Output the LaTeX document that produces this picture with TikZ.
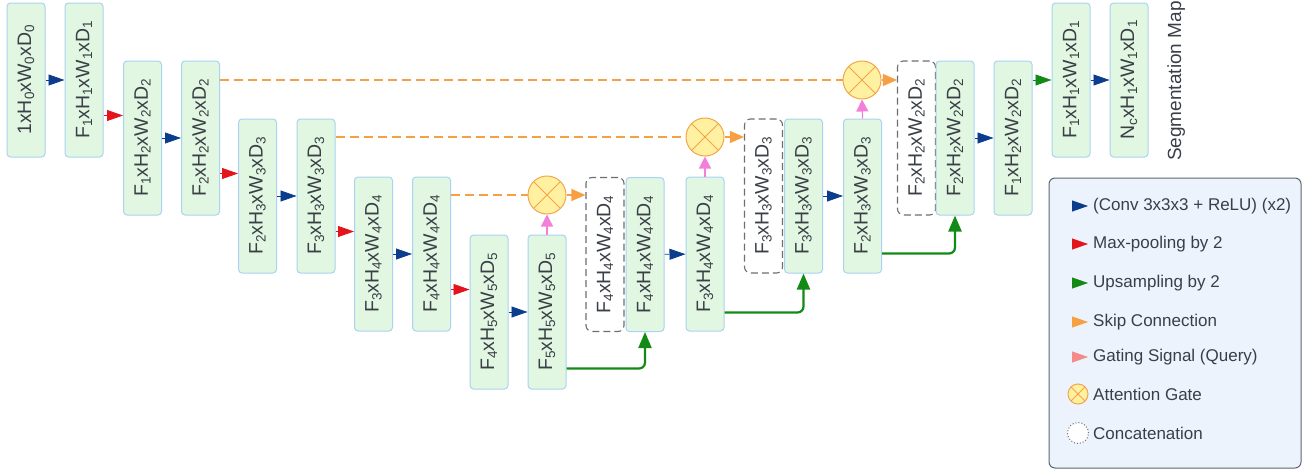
\documentclass[tikz,border=0pt]{standalone}
\usepackage{fontspec}
\setmainfont{Liberation Sans}
\usetikzlibrary{arrows.meta,calc}
\definecolor{boxfill}{HTML}{E2F7E2}
\definecolor{boxline}{HTML}{A9D3F2}
\definecolor{txt}{HTML}{3A3F47}
\definecolor{cblue}{HTML}{0B3D8C}
\definecolor{cred}{HTML}{E3141B}
\definecolor{cgreen}{HTML}{138A16}
\definecolor{corange}{HTML}{F7A043}
\definecolor{cpink}{HTML}{F27FD9}
\definecolor{csalmon}{HTML}{F48B8B}
\definecolor{gfill}{HTML}{FFF1A1}
\definecolor{gline}{HTML}{F5A548}
\definecolor{legfill}{HTML}{EDF3FC}
\definecolor{legline}{HTML}{5B6370}
\definecolor{dashline}{HTML}{6E6E6E}
\newcommand\lo[1]{\raisebox{-0.28ex}{\fontsize{13.5}{13.5}\selectfont #1}}
\newcommand\dims[5]{#1\lo{#2}xH\lo{#3}xW\lo{#4}xD\lo{#5}}
\tikzset{
  box/.style={draw=boxline, fill=boxfill, rounded corners=3.5pt, minimum width=38pt,
    minimum height=154pt, inner sep=0pt, text=txt, line width=1pt,
    font=\fontsize{19.5}{19.5}\selectfont},
  catbox/.style={box, draw=dashline, fill=white, line width=1.1pt, dash pattern=on 7pt off 4pt, rounded corners=6pt},
  gate/.style={circle, draw=gline, fill=gfill, minimum size=38pt, inner sep=0pt, line width=1pt,
    path picture={\draw[gline, line width=1pt]
      (path picture bounding box.north west) -- (path picture bounding box.south east)
      (path picture bounding box.north east) -- (path picture bounding box.south west);}},
  conv/.style={color=cblue, line width=0.8pt, -{Triangle[length=16pt,width=11pt]}},
  pool/.style={color=cred, line width=0.8pt, -{Triangle[length=16pt,width=11pt]}},
  upar/.style={color=cgreen, line width=2.2pt, rounded corners=6pt, -{Triangle[length=16pt,width=13pt]}},
  upsmall/.style={color=cgreen, line width=0.8pt, -{Triangle[length=16pt,width=11pt]}},
  skipline/.style={draw=corange, line width=1.2pt, dash pattern=on 9pt off 5pt},
  skiparr/.style={color=corange, line width=1.2pt, -{Triangle[length=14pt,width=12pt]}},
  gating/.style={color=cpink, line width=1.2pt, -{Triangle[length=12pt,width=12pt]}},
  legtxt/.style={anchor=west, inner sep=0pt, text=txt, font=\fontsize{17}{17}\selectfont},
}
\begin{document}
\begin{tikzpicture}[x=1pt,y=-1pt]
\useasboundingbox (0,0) rectangle (1313,471);
% encoder
\node[box] (B1) at (26,80) {\rotatebox{90}{\dims{1}{}{0}{0}{0}}};
\node[box] (B2) at (84,80) {\rotatebox{90}{\dims{F}{1}{1}{1}{1}}};
\node[box] (B3) at (142.5,138) {\rotatebox{90}{\dims{F}{1}{2}{2}{2}}};
\node[box] (B4) at (200.5,138) {\rotatebox{90}{\dims{F}{2}{2}{2}{2}}};
\node[box] (B5) at (257.5,196) {\rotatebox{90}{\dims{F}{2}{3}{3}{3}}};
\node[box] (B6) at (316,196) {\rotatebox{90}{\dims{F}{3}{3}{3}{3}}};
\node[box] (B7) at (373.5,254) {\rotatebox{90}{\dims{F}{3}{4}{4}{4}}};
\node[box] (B8) at (431.5,254) {\rotatebox{90}{\dims{F}{4}{4}{4}{4}}};
\node[box] (B9) at (489,312) {\rotatebox{90}{\dims{F}{4}{5}{5}{5}}};
\node[box] (B10) at (547,312) {\rotatebox{90}{\dims{F}{5}{5}{5}{5}}};
% decoder
\node[catbox] (D1) at (605,254.5) {\rotatebox{90}{\dims{F}{4}{4}{4}{4}}};
\node[box] (G1) at (645,254.5) {\rotatebox{90}{\dims{F}{4}{4}{4}{4}}};
\node[box] (B11) at (705,254) {\rotatebox{90}{\dims{F}{3}{4}{4}{4}}};
\node[catbox] (D2) at (763.5,196) {\rotatebox{90}{\dims{F}{3}{3}{3}{3}}};
\node[box] (G2) at (803.5,196) {\rotatebox{90}{\dims{F}{3}{3}{3}{3}}};
\node[box] (B12) at (862.5,196) {\rotatebox{90}{\dims{F}{2}{3}{3}{3}}};
\node[catbox] (D3) at (916.5,138) {\rotatebox{90}{\dims{F}{2}{2}{2}{2}}};
\node[box] (G3) at (955,138) {\rotatebox{90}{\dims{F}{2}{2}{2}{2}}};
\node[box] (B13) at (1013,138) {\rotatebox{90}{\dims{F}{1}{2}{2}{2}}};
\node[box] (B14) at (1071,80) {\rotatebox{90}{\dims{F}{1}{1}{1}{1}}};
\node[box] (B15) at (1129,80) {\rotatebox{90}{\dims{N}{c}{1}{1}{1}}};
\node[rotate=90, anchor=base west, inner sep=0pt, text=txt, font=\fontsize{19}{19}\selectfont]
  (SM) at (1181,161) {Segmentation Map};
% gates
\node[gate] (A1) at (547,195) {};
\node[gate] (A2) at (705,137) {};
\node[gate] (A3) at (862,80) {};
% conv arrows
\draw[conv] (B1) -- (B2);
\draw[conv] (B3) -- (B4);
\draw[conv] (B5) -- (B6);
\draw[conv] (B7) -- (B8);
\draw[conv] (B9) -- (B10);
\draw[conv] (G1) -- (B11);
\draw[conv] (G2) -- (B12);
\draw[conv] (G3) -- (B13);
\draw[conv] (B14) -- (B15);
% pooling arrows
\coordinate (p1) at ([yshift=-55pt]B3.north west);
\coordinate (p2) at ([yshift=-55pt]B5.north west);
\coordinate (p3) at ([yshift=-55pt]B7.north west);
\coordinate (p4) at ([yshift=-55pt]B9.north west);
\draw[pool] (B2.east |- p1) -- (p1);
\draw[pool] (B4.east |- p2) -- (p2);
\draw[pool] (B6.east |- p3) -- (p3);
\draw[pool] (B8.east |- p4) -- (p4);
% skip connections
\draw[skipline] (A1 -| B8.east) -- (A1.west);
\draw[skipline] (A2 -| B6.east) -- (A2.west);
\draw[skipline] (A3 -| B4.east) -- (A3.west);
\draw[skiparr] (A1.east) -- (A1 -| D1.west);
\draw[skiparr] (A2.east) -- (A2 -| D2.west);
\draw[skiparr] (A3.east) -- (A3 -| D3.west);
% gating
\draw[gating] (B10.north) -- (A1.south);
\draw[gating] (B11.north) -- (A2.south);
\draw[gating] (B12.north) -- (A3.south);
% upsampling
\draw[upar] ([yshift=21pt]B10.south east) -| (G1.south);
\draw[upar] ([yshift=19pt]B11.south east) -| (G2.south);
\draw[upar] ([yshift=20pt]B12.south east) -| (G3.south);
\draw[upsmall] (B13.east |- B14) -- (B14.west);
% legend
\draw[draw=legline, fill=legfill, line width=1pt, rounded corners=6pt] (1049,178) rectangle (1301,468);
\coordinate (L1a) at (1072,206); \coordinate (L1b) at (1088,206);
\coordinate (L2a) at (1072,244); \coordinate (L2b) at (1088,244);
\coordinate (L3a) at (1072,283); \coordinate (L3b) at (1088,283);
\coordinate (L4a) at (1072,322); \coordinate (L4b) at (1088,322);
\coordinate (L5a) at (1072,357); \coordinate (L5b) at (1088,357);
\draw[conv] (L1a) -- (L1b);
\draw[pool] (L2a) -- (L2b);
\draw[upsmall] (L3a) -- (L3b);
\draw[color=corange, line width=0.8pt, -{Triangle[length=16pt,width=11pt]}] (L4a) -- (L4b);
\draw[color=csalmon, line width=0.8pt, -{Triangle[length=16pt,width=11pt]}] (L5a) -- (L5b);
\node[gate, minimum size=20pt] (LG) at (1078,394) {};
\node[circle, draw=dashline, fill=white, dotted, line width=1pt, minimum size=21pt, inner sep=0pt] (LC) at (1078,433) {};
\node[legtxt] (T1) at (1093,206) {(Conv 3x3x3 + ReLU) (x2)};
\node[legtxt] (T2) at (1093,244) {Max-pooling by 2};
\node[legtxt] (T3) at (1093,283) {Upsampling by 2};
\node[legtxt] (T4) at (1093,322) {Skip Connection};
\node[legtxt] (T5) at (1093,357) {Gating Signal (Query)};
\node[legtxt] (T6) at (1093,394) {Attention Gate};
\node[legtxt] (T7) at (1093,433) {Concatenation};
\end{tikzpicture}
\end{document}
